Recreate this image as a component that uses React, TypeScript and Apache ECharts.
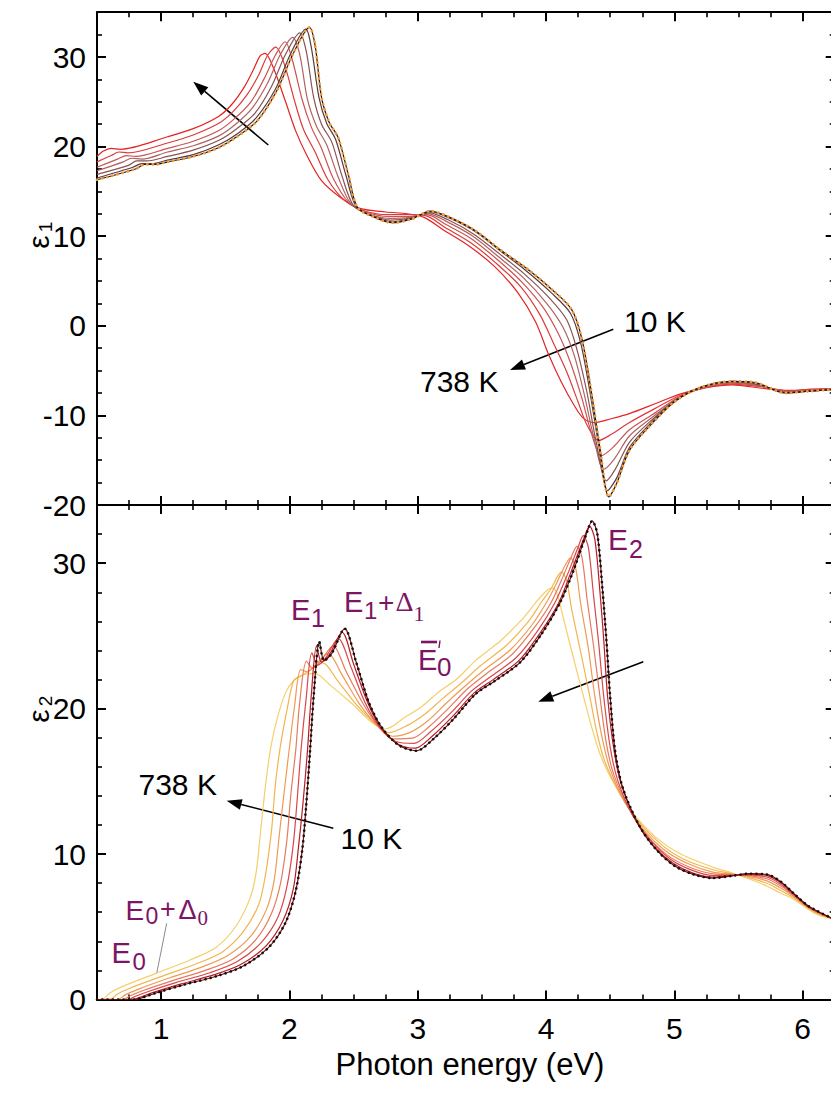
import React, { useEffect, useRef } from 'react';
import * as echarts from 'echarts';

// Temperatures of the plotted spectra (K)
const temperaturesK = [10, 130, 250, 370, 490, 610, 738];

// Photon energy range (eV) and labelled energies
const energyRange = [0.5, 6.25];
const energyTicks = [1, 2, 3, 4, 5, 6];

// Real part of the dielectric function, eps1 — [energy (eV), value]
const eps1_10K = [[0.50,16.3],[0.80,17.5],[0.87,18.0],[0.95,18.0],[1.05,18.3],[1.25,18.9],[1.45,19.9],[1.60,21.2],[1.75,22.9],[1.90,26.2],[2.03,30.4],[2.156,33.3],[2.20,31.3],[2.25,25.5],[2.31,22.7],[2.38,21.0],[2.46,16.8],[2.53,13.2],[2.65,12.2],[2.80,11.5],[2.95,11.9],[3.10,12.8],[3.25,12.1],[3.45,10.6],[3.65,8.4],[3.85,6.4],[4.05,4.0],[4.20,1.8],[4.28,-1.5],[4.35,-7.1],[4.42,-13.6],[4.49,-19.1],[4.55,-17.6],[4.65,-13.9],[4.80,-11.3],[5.00,-8.5],[5.20,-6.9],[5.45,-6.2],[5.62,-6.3],[5.87,-7.5],[6.05,-7.3],[6.25,-7.1]];
const eps1_130K = [[0.50,16.5],[0.78,17.7],[0.85,18.1],[0.93,18.1],[1.05,18.5],[1.25,19.1],[1.45,20.2],[1.60,21.5],[1.74,23.2],[1.89,26.4],[2.01,30.4],[2.128,33.1],[2.17,31.1],[2.23,25.5],[2.29,22.6],[2.36,20.8],[2.44,16.8],[2.52,13.3],[2.64,12.3],[2.80,11.6],[2.95,12.0],[3.10,12.7],[3.25,12.0],[3.45,10.5],[3.65,8.3],[3.84,6.2],[4.04,3.7],[4.19,1.4],[4.27,-1.9],[4.34,-7.2],[4.41,-13.3],[4.48,-18.4],[4.55,-17.0],[4.65,-13.6],[4.80,-11.1],[5.00,-8.4],[5.20,-6.9],[5.45,-6.2],[5.63,-6.4],[5.87,-7.5],[6.05,-7.3],[6.25,-7.1]];
const eps1_250K = [[0.50,16.9],[0.745,17.9],[0.81,18.4],[0.89,18.4],[1.05,18.9],[1.25,19.6],[1.45,20.7],[1.59,22.0],[1.73,23.7],[1.86,26.7],[1.97,30.3],[2.08,32.7],[2.13,30.7],[2.19,25.4],[2.25,22.5],[2.33,20.5],[2.41,16.7],[2.50,13.4],[2.63,12.4],[2.79,11.8],[2.94,12.0],[3.09,12.6],[3.24,11.8],[3.44,10.2],[3.64,8.0],[3.83,5.8],[4.02,3.2],[4.16,0.7],[4.24,-2.6],[4.32,-7.5],[4.39,-12.9],[4.47,-17.3],[4.54,-16.0],[4.65,-13.0],[4.81,-10.7],[5.01,-8.3],[5.21,-6.9],[5.45,-6.3],[5.64,-6.5],[5.88,-7.4],[6.05,-7.3],[6.25,-7.1]];
const eps1_370K = [[0.50,17.3],[0.705,18.3],[0.77,18.7],[0.85,18.6],[1.05,19.4],[1.25,20.1],[1.45,21.2],[1.58,22.5],[1.71,24.3],[1.83,27.1],[1.93,30.3],[2.025,32.2],[2.08,30.3],[2.14,25.3],[2.21,22.3],[2.29,20.2],[2.38,16.6],[2.48,13.6],[2.61,12.5],[2.78,12.0],[2.94,12.1],[3.08,12.5],[3.23,11.6],[3.43,10.0],[3.63,7.7],[3.82,5.4],[4.00,2.6],[4.13,-0.1],[4.22,-3.3],[4.30,-7.8],[4.37,-12.3],[4.45,-16.0],[4.53,-14.9],[4.65,-12.3],[4.82,-10.3],[5.02,-8.2],[5.22,-6.9],[5.45,-6.35],[5.65,-6.6],[5.88,-7.4],[6.05,-7.2],[6.25,-7.1]];
const eps1_490K = [[0.50,17.7],[0.66,18.6],[0.73,19.0],[0.80,18.9],[1.05,19.8],[1.25,20.6],[1.45,21.8],[1.57,23.1],[1.70,25.0],[1.80,27.5],[1.89,30.2],[1.966,31.7],[2.02,29.8],[2.10,25.2],[2.17,22.2],[2.25,19.8],[2.34,16.5],[2.46,13.8],[2.60,12.7],[2.77,12.2],[2.93,12.2],[3.07,12.4],[3.22,11.3],[3.42,9.7],[3.62,7.4],[3.81,4.9],[3.98,2.0],[4.10,-1.0],[4.19,-4.1],[4.28,-8.1],[4.35,-11.8],[4.43,-14.5],[4.52,-13.6],[4.65,-11.6],[4.83,-9.9],[5.03,-8.0],[5.23,-6.9],[5.45,-6.4],[5.66,-6.7],[5.89,-7.3],[6.05,-7.2],[6.25,-7.0]];
const eps1_610K = [[0.50,18.3],[0.61,19.0],[0.67,19.4],[0.74,19.3],[1.05,20.4],[1.25,21.3],[1.45,22.6],[1.56,23.9],[1.67,25.8],[1.76,28.0],[1.83,30.2],[1.893,31.1],[1.96,29.2],[2.04,25.1],[2.11,21.9],[2.20,19.4],[2.30,16.3],[2.43,14.0],[2.57,12.9],[2.76,12.4],[2.93,12.4],[3.06,12.3],[3.21,11.0],[3.41,9.3],[3.61,7.0],[3.80,4.4],[3.95,1.3],[4.06,-2.0],[4.16,-5.1],[4.25,-8.5],[4.32,-11.1],[4.41,-12.8],[4.51,-12.1],[4.65,-10.8],[4.84,-9.3],[5.04,-7.8],[5.24,-6.9],[5.45,-6.5],[5.68,-6.8],[5.89,-7.3],[6.05,-7.1],[6.25,-7.0]];
const eps1_738K = [[0.50,18.9],[0.55,19.5],[0.61,19.8],[0.68,19.7],[1.05,21.1],[1.25,22.0],[1.45,23.4],[1.55,24.7],[1.65,26.7],[1.72,28.6],[1.77,30.1],[1.81,30.4],[1.88,28.6],[1.97,25.0],[2.05,21.7],[2.14,18.9],[2.25,16.2],[2.40,14.3],[2.55,13.1],[2.75,12.7],[2.92,12.5],[3.05,12.1],[3.20,10.7],[3.40,8.9],[3.60,6.6],[3.78,3.7],[3.92,0.4],[4.02,-3.2],[4.12,-6.3],[4.22,-8.9],[4.29,-10.3],[4.38,-10.8],[4.50,-10.4],[4.65,-9.8],[4.85,-8.7],[5.05,-7.6],[5.25,-6.9],[5.45,-6.6],[5.70,-7.0],[5.90,-7.2],[6.05,-7.1],[6.25,-7.0]];

// Imaginary part, eps2 — [energy (eV), value]
const eps2_10K = [[0.50,0],[0.80,0],[0.86,0.15],[0.96,0.45],[1.17,1.0],[1.43,1.6],[1.64,2.3],[1.84,3.6],[1.97,5.3],[2.05,7.5],[2.10,10.3],[2.13,13.3],[2.16,17.0],[2.19,21.0],[2.233,24.6],[2.27,23.3],[2.33,23.8],[2.43,25.5],[2.52,23.2],[2.62,20.4],[2.72,18.7],[2.85,17.5],[2.99,17.1],[3.12,17.9],[3.28,19.3],[3.45,21.0],[3.60,21.9],[3.80,23.2],[3.97,25.2],[4.11,27.3],[4.21,29.4],[4.31,31.9],[4.36,32.9],[4.40,32.0],[4.44,28.2],[4.47,24.8],[4.50,20.8],[4.54,17.0],[4.60,14.5],[4.73,11.9],[4.86,10.3],[5.00,9.2],[5.15,8.6],[5.30,8.35],[5.45,8.5],[5.58,8.65],[5.72,8.6],[5.83,8.1],[5.93,7.3],[6.05,6.4],[6.25,5.5]];
const eps2_130K = [[0.50,0],[0.78,0],[0.84,0.17],[0.94,0.49],[1.15,1.06],[1.41,1.69],[1.62,2.4],[1.82,3.71],[1.95,5.43],[2.03,7.6],[2.07,10.44],[2.105,13.45],[2.14,17.05],[2.17,20.88],[2.212,24.32],[2.25,23.19],[2.31,23.68],[2.41,25.25],[2.50,23.07],[2.61,20.4],[2.71,18.72],[2.84,17.59],[2.98,17.28],[3.11,18.08],[3.27,19.45],[3.44,21.08],[3.59,22.01],[3.79,23.32],[3.96,25.28],[4.10,27.3],[4.19,29.28],[4.29,31.6],[4.34,32.53],[4.38,31.66],[4.42,28.06],[4.45,24.7],[4.48,20.8],[4.53,17.13],[4.59,14.69],[4.71,12.15],[4.84,10.52],[4.99,9.36],[5.14,8.71],[5.30,8.41],[5.45,8.52],[5.58,8.62],[5.72,8.54],[5.83,8.04],[5.93,7.27],[6.05,6.36],[6.25,5.5]];
const eps2_250K = [[0.50,0],[0.745,0],[0.80,0.22],[0.90,0.55],[1.12,1.18],[1.38,1.84],[1.59,2.59],[1.78,3.91],[1.91,5.65],[1.98,7.76],[2.03,10.67],[2.06,13.72],[2.09,17.13],[2.13,20.67],[2.175,23.83],[2.22,22.99],[2.28,23.47],[2.38,24.82],[2.48,22.85],[2.59,20.4],[2.70,18.77],[2.83,17.74],[2.97,17.61],[3.10,18.41],[3.26,19.72],[3.42,21.22],[3.57,22.21],[3.77,23.53],[3.94,25.42],[4.07,27.3],[4.16,29.07],[4.25,31.09],[4.29,31.89],[4.33,31.08],[4.37,27.8],[4.41,24.54],[4.45,20.8],[4.50,17.35],[4.56,15.03],[4.68,12.58],[4.82,10.89],[4.97,9.64],[5.13,8.91],[5.30,8.52],[5.45,8.54],[5.58,8.57],[5.72,8.42],[5.83,7.92],[5.93,7.21],[6.06,6.29],[6.25,5.5]];
const eps2_370K = [[0.50,0],[0.705,0],[0.76,0.26],[0.86,0.62],[1.09,1.3],[1.35,2.02],[1.56,2.79],[1.74,4.13],[1.86,5.91],[1.93,7.96],[1.98,10.95],[2.01,14.02],[2.05,17.23],[2.08,20.43],[2.133,23.27],[2.18,22.77],[2.24,23.23],[2.34,24.32],[2.44,22.59],[2.57,20.4],[2.69,18.81],[2.81,17.92],[2.96,17.97],[3.09,18.77],[3.24,20.02],[3.39,21.38],[3.54,22.43],[3.74,23.77],[3.91,25.58],[4.04,27.3],[4.12,28.83],[4.20,30.49],[4.24,31.15],[4.28,30.4],[4.32,27.52],[4.37,24.34],[4.42,20.84],[4.47,17.61],[4.53,15.41],[4.65,13.08],[4.78,11.33],[4.94,9.96],[5.11,9.13],[5.30,8.64],[5.45,8.58],[5.58,8.52],[5.72,8.3],[5.83,7.8],[5.93,7.15],[6.07,6.21],[6.25,5.5]];
const eps2_490K = [[0.50,0],[0.66,0],[0.72,0.32],[0.82,0.7],[1.05,1.44],[1.31,2.21],[1.52,3.02],[1.70,4.37],[1.82,6.18],[1.88,8.16],[1.92,11.24],[1.96,14.35],[2.00,17.33],[2.04,20.18],[2.088,22.68],[2.14,22.53],[2.20,22.98],[2.30,23.8],[2.41,22.32],[2.54,20.4],[2.68,18.87],[2.80,18.1],[2.94,18.37],[3.08,19.17],[3.22,20.35],[3.37,21.55],[3.52,22.67],[3.72,24.03],[3.89,25.75],[4.01,27.4],[4.08,28.58],[4.15,29.87],[4.19,30.37],[4.23,29.69],[4.27,27.21],[4.33,24.14],[4.38,20.86],[4.44,17.88],[4.50,15.82],[4.61,13.61],[4.75,11.79],[4.92,10.3],[5.10,9.37],[5.30,8.76],[5.45,8.61],[5.58,8.46],[5.72,8.16],[5.83,7.66],[5.93,7.08],[6.08,6.13],[6.25,5.5]];
const eps2_610K = [[0.50,0],[0.61,0.04],[0.66,0.38],[0.76,0.79],[1.01,1.61],[1.27,2.44],[1.48,3.29],[1.64,4.66],[1.76,6.52],[1.81,8.41],[1.86,11.59],[1.89,14.74],[1.93,17.46],[1.98,19.86],[2.033,21.94],[2.09,22.24],[2.16,22.66],[2.26,23.14],[2.37,21.98],[2.51,20.4],[2.67,18.93],[2.77,18.34],[2.92,18.85],[3.06,19.65],[3.20,20.74],[3.34,21.76],[3.49,22.96],[3.69,24.34],[3.86,25.96],[3.97,27.4],[4.04,28.26],[4.09,29.09],[4.12,29.4],[4.16,28.81],[4.20,26.83],[4.27,23.89],[4.34,20.88],[4.40,18.22],[4.46,16.32],[4.57,14.26],[4.71,12.35],[4.89,10.72],[5.07,9.66],[5.30,8.92],[5.45,8.65],[5.58,8.38],[5.72,7.99],[5.83,7.49],[5.93,6.99],[6.09,6.02],[6.25,5.5]];
const eps2_738K = [[0.50,0],[0.55,0.05],[0.60,0.45],[0.70,0.9],[0.96,1.8],[1.22,2.7],[1.43,3.6],[1.58,5.0],[1.69,6.9],[1.74,8.7],[1.78,12.0],[1.82,15.2],[1.86,17.6],[1.91,19.5],[1.97,21.1],[2.03,21.9],[2.10,22.3],[2.20,22.4],[2.32,21.6],[2.48,20.4],[2.65,19.0],[2.75,18.6],[2.90,19.4],[3.04,20.2],[3.17,21.2],[3.30,22.0],[3.45,23.3],[3.65,24.7],[3.82,26.2],[3.93,27.4],[3.98,27.9],[4.02,28.2],[4.05,28.3],[4.09,27.8],[4.13,26.4],[4.21,23.6],[4.29,20.9],[4.36,18.6],[4.42,16.9],[4.52,15.0],[4.66,13.0],[4.85,11.2],[5.05,10.0],[5.30,9.1],[5.45,8.7],[5.58,8.3],[5.72,7.8],[5.83,7.3],[5.93,6.9],[6.10,5.9],[6.25,5.5]];

const eps1Curves = [eps1_10K, eps1_130K, eps1_250K, eps1_370K, eps1_490K, eps1_610K, eps1_738K];
const eps2Curves = [eps2_10K, eps2_130K, eps2_250K, eps2_370K, eps2_490K, eps2_610K, eps2_738K];

// Line colours, low to high temperature
const eps1Colors = ['#1c1414', '#5a3a3a', '#8a5252', '#b06262', '#cc5252', '#dd3a3a', '#e52222'];
const eps2Colors = ['#7a0c0c', '#b51c24', '#d8474a', '#e67a5e', '#ef9a52', '#f3b54e', '#f4cf6a'];

const SANS = '"Liberation Sans", Arial, Helvetica, sans-serif';
const SERIF = '"Liberation Serif", "Times New Roman", serif';
const PURPLE = '#7d1464';

const axisLineStyle = { color: '#000', width: 2 };

function xAxisPair(gridIndex: number, position: 'top' | 'bottom', labels: boolean) {
  const major: any = {
    type: 'value', gridIndex, position, min: energyRange[0], max: energyRange[1],
    axisLine: { show: true, onZero: false, lineStyle: axisLineStyle },
    axisTick: { show: true, inside: true, length: 9, customValues: energyTicks, lineStyle: { color: '#000', width: 2 } },
    axisLabel: labels
      ? { show: true, customValues: energyTicks, fontSize: 30, color: '#000', fontFamily: SANS, margin: 14 }
      : { show: false },
    splitLine: { show: false },
  };
  const minor: any = {
    type: 'value', gridIndex, position, min: energyRange[0], max: energyRange[1], interval: 0.25,
    axisLine: { show: false, onZero: false },
    axisTick: { show: true, inside: true, length: 5, lineStyle: { color: '#000', width: 1.6 } },
    axisLabel: { show: false },
    splitLine: { show: false },
  };
  return [major, minor];
}

function yAxisPair(gridIndex: number, position: 'left' | 'right', min: number, max: number, minorStep: number, labels: boolean) {
  const major: any = {
    type: 'value', gridIndex, position, min, max, interval: 10,
    axisLine: { show: true, onZero: false, lineStyle: axisLineStyle },
    axisTick: { show: true, inside: true, length: 9, lineStyle: { color: '#000', width: 2 } },
    axisLabel: labels
      ? { show: true, fontSize: 30, color: '#000', fontFamily: SANS, margin: 11, showMaxLabel: false }
      : { show: false },
    splitLine: { show: false },
  };
  const minor: any = {
    type: 'value', gridIndex, position, min, max, interval: minorStep,
    axisLine: { show: false, onZero: false },
    axisTick: { show: true, inside: true, length: 5, lineStyle: { color: '#000', width: 1.6 } },
    axisLabel: { show: false },
    splitLine: { show: false },
  };
  return [major, minor];
}

function arrow(x1: number, y1: number, x2: number, y2: number) {
  const a = Math.atan2(y2 - y1, x2 - x1);
  const len = 15, half = 5.5;
  const bx = x2 - len * Math.cos(a), by = y2 - len * Math.sin(a);
  const px = -Math.sin(a) * half, py = Math.cos(a) * half;
  return [
    { type: 'line', silent: true, shape: { x1, y1, x2: bx, y2: by }, style: { stroke: '#000', lineWidth: 1.6 } },
    { type: 'polygon', silent: true, shape: { points: [[x2, y2], [bx + px, by + py], [bx - px, by - py]] }, style: { fill: '#000' } },
  ];
}

function label(x: number, y: number, text: string, size: number, color = '#000', family = SANS, align = 'left') {
  return {
    type: 'text', silent: true, x, y,
    style: { text, fontSize: size, fontFamily: family, fill: color, align, verticalAlign: 'middle' },
  };
}

function axisTitle(cx: number, cy: number, sub: string) {
  return {
    type: 'group', x: cx, y: cy, rotation: Math.PI / 2, silent: true,
    children: [
      { type: 'text', x: -5, y: 0, style: { text: 'ε', fontSize: 30, fontFamily: SANS, fill: '#000', align: 'center', verticalAlign: 'middle' } },
      { type: 'text', x: 10, y: 7, style: { text: sub, fontSize: 19, fontFamily: SANS, fill: '#000', align: 'center', verticalAlign: 'middle' } },
    ],
  };
}

function buildOption() {
  const series: any[] = [];
  const line = (data: number[][], color: string, xi: number, yi: number, name: string) => ({
    type: 'line', name, data, xAxisIndex: xi, yAxisIndex: yi, showSymbol: false, smooth: 0.3,
    lineStyle: { color, width: 1.2 }, emphasis: { disabled: true }, silent: true,
  });
  for (let i = temperaturesK.length - 1; i >= 0; i--) {
    series.push(line(eps1Curves[i], eps1Colors[i], 0, 0, `eps1 ${temperaturesK[i]} K`));
  }
  series.push({
    type: 'line', name: 'eps1 10 K points', data: eps1_10K, xAxisIndex: 0, yAxisIndex: 0, showSymbol: false, smooth: 0.3,
    lineStyle: { color: '#f29a3a', width: 2.8, type: [0.1, 5.2], cap: 'round' }, silent: true,
  });
  for (let i = temperaturesK.length - 1; i >= 0; i--) {
    series.push(line(eps2Curves[i], eps2Colors[i], 4, 4, `eps2 ${temperaturesK[i]} K`));
  }
  series.push({
    type: 'line', name: 'eps2 10 K points', data: eps2_10K, xAxisIndex: 4, yAxisIndex: 4, showSymbol: false, smooth: 0.3,
    lineStyle: { color: '#111', width: 2.6, type: [0.1, 5.2], cap: 'round' }, silent: true,
  });

  const graphic: any[] = [
    // eps1 annotations
    ...arrow(268.3, 145, 193.3, 81.7),
    ...arrow(613.3, 329.3, 510, 370),
    label(624, 321.5, '10 K', 30),
    label(420, 381.5, '738 K', 30),
    // eps2 annotations
    ...arrow(333.3, 828.3, 226.7, 800.7),
    ...arrow(643.3, 661.7, 538.3, 701.7),
    label(138.5, 784, '738 K', 30),
    label(340.5, 838, '10 K', 30),
    // E1
    label(291, 610, 'E', 29, PURPLE),
    label(311, 617.5, '1', 25, PURPLE),
    // E1 + Delta1
    label(344, 601.7, 'E', 29, PURPLE),
    label(364, 610, '1', 24, PURPLE),
    label(378, 602.5, '+', 28, PURPLE),
    label(395.5, 601.7, 'Δ', 28, PURPLE, SERIF),
    label(413.5, 613, '1', 22, PURPLE, SERIF),
    // E0' with bar
    label(418, 660, 'E', 29, PURPLE),
    { type: 'line', silent: true, shape: { x1: 421, y1: 642, x2: 437, y2: 642 }, style: { stroke: PURPLE, lineWidth: 2.6 } },
    { type: 'line', silent: true, shape: { x1: 440, y1: 640.5, x2: 439, y2: 648 }, style: { stroke: PURPLE, lineWidth: 1.4 } },
    label(437, 667, '0', 26, PURPLE),
    // E2
    label(608, 539, 'E', 30, PURPLE),
    label(629, 549, '2', 25, PURPLE),
    // E0 + Delta0
    label(125.5, 910, 'E', 28, PURPLE),
    label(145.5, 916, '0', 23, PURPLE),
    label(160, 909, '+', 27, PURPLE),
    label(178.5, 910, 'Δ', 27, PURPLE),
    label(197.5, 917.5, '0', 21, PURPLE, SERIF),
    // E0
    label(111.5, 952.5, 'E', 29, PURPLE),
    label(132.5, 961, '0', 24, PURPLE),
    { type: 'line', silent: true, shape: { x1: 166.7, y1: 923.3, x2: 156.7, y2: 973.3 }, style: { stroke: '#8a8a8a', lineWidth: 1 } },
    // axis titles
    axisTitle(38, 237, '1'),
    axisTitle(38, 711, '2'),
    label(470, 1064, 'Photon energy (eV)', 31, '#000', SANS, 'center'),
  ];

  return {
    animation: false,
    backgroundColor: '#ffffff',
    grid: [
      { left: 97, top: 12.2, width: 737.7, height: 492.8, outerBoundsMode: 'none' },
      { left: 97, top: 505, width: 737.7, height: 494.5, outerBoundsMode: 'none' },
    ],
    xAxis: [
      ...xAxisPair(0, 'bottom', false),
      ...xAxisPair(0, 'top', false),
      ...xAxisPair(1, 'bottom', true),
      ...xAxisPair(1, 'top', false),
    ],
    yAxis: [
      ...yAxisPair(0, 'left', -20, 35, 2.5, true),
      ...yAxisPair(0, 'right', -20, 35, 2.5, false),
      ...yAxisPair(1, 'left', 0, 34, 2, true),
      ...yAxisPair(1, 'right', 0, 34, 2, false),
    ],
    series,
    graphic,
  };
}

export default function App() {
  const ref = useRef<HTMLDivElement>(null);
  useEffect(() => {
    if (!ref.current) return;
    const chart = echarts.init(ref.current, undefined, { renderer: 'svg' });
    chart.setOption(buildOption() as any);
    return () => chart.dispose();
  }, []);
  return (
    <div style={{ position: 'fixed', left: 0, top: 0, width: '100vw', height: '100vh', overflow: 'hidden', background: '#fff' }}>
      <div ref={ref} style={{ width: 840, height: 1093 }} />
    </div>
  );
}
